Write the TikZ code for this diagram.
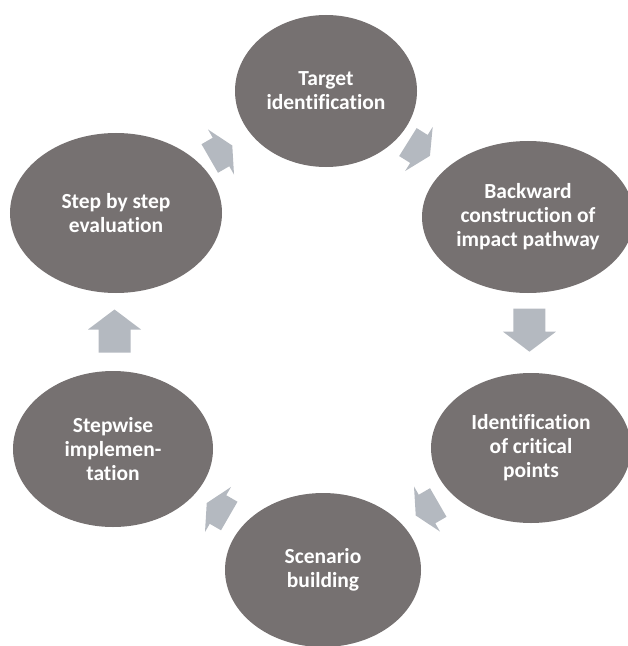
\documentclass[tikz,border=0pt]{standalone}
\usepackage{fontspec}
\setmainfont{Carlito}[Ligatures=NoCommon]
\usetikzlibrary{shapes.geometric,calc}
\definecolor{ellgray}{HTML}{767171}
\definecolor{arrgray}{HTML}{B4B9C0}
\tikzset{
  stage/.style={ellipse, fill=ellgray, inner sep=0pt, text=white,
    font=\bfseries\fontsize{21.5bp}{24bp}\selectfont, align=center},
  shortarr/.pic={\fill[arrgray] (-13,-16.5) -- (0,-16.5) -- (0,-26) -- (13,0) -- (0,26) -- (0,16.5) -- (-13,16.5) -- cycle;},
  longarr/.pic={\fill[arrgray] (-21.5,-16) -- (1.5,-16) -- (1.5,-26.5) -- (21.5,0) -- (1.5,26.5) -- (1.5,16) -- (-21.5,16) -- cycle;}
}
\begin{document}
\begin{tikzpicture}[x=1bp,y=-1bp]
\useasboundingbox (0,0) rectangle (628,646);
\clip (0,0) rectangle (628,646);
\node[stage, minimum width=182bp, minimum height=152bp] (target) at (326,91) {Target\\identification};
\node[stage, minimum width=212bp, minimum height=152bp] (back) at (528,217) {Backward\\construction of\\impact pathway};
\node[stage, minimum width=200bp, minimum height=150bp] (crit) at (531,448) {Identification\\of critical\\points};
\node[stage, minimum width=196bp, minimum height=154bp] (scen) at (323,570) {Scenario\\building};
\node[stage, minimum width=200bp, minimum height=156bp] (impl) at (113,449) {Stepwise\\implemen-\\tation};
\node[stage, minimum width=212bp, minimum height=160bp] (eval) at (116,213) {Step by step\\evaluation};
\pic[rotate=30] at ($(eval)!0.5!(target)$) {shortarr};
\pic[rotate=-32] at ($(target)!0.46!(back)$) {shortarr};
\pic[rotate=-90] at ($(back)!0.49!(crit)$) {longarr};
\pic[rotate=-150] at ($(crit)!0.5!(scen)$) {shortarr};
\pic[rotate=150] at ($(scen)!0.5!(impl)$) {shortarr};
\pic[rotate=90] at ($(impl)!0.5!(eval)$) {longarr};
\end{tikzpicture}
\end{document}
